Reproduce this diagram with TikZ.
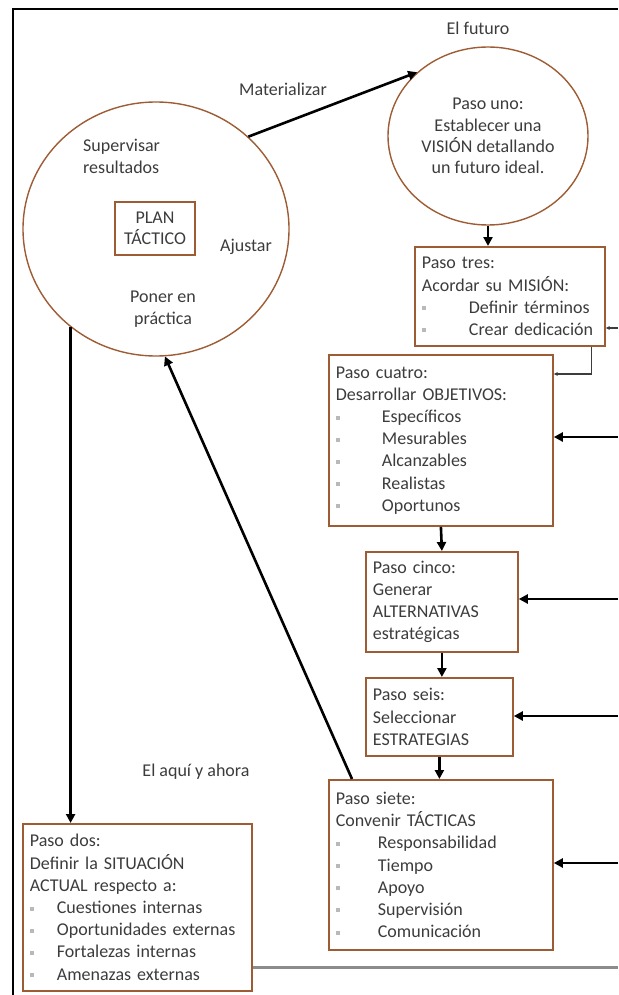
\documentclass[tikz,border=0pt]{standalone}
\usepackage{fontspec}
\setmainfont{Carlito}
\usetikzlibrary{arrows.meta,shapes.geometric,calc}
\definecolor{boxbrown}{RGB}{158,92,52}
\definecolor{txt}{RGB}{60,60,60}
\definecolor{bulgray}{RGB}{185,185,185}
\definecolor{railgray}{RGB}{140,140,140}
% bullet item: small grey square, then the text at a fixed indent
\newcommand\itm[2]{\makebox[#1][l]{\textcolor{bulgray}{\rule[3pt]{4pt}{4pt}}}#2}
\begin{document}
\begin{tikzpicture}[x=1pt,y=-1pt,
  every node/.style={font=\fontsize{18}{22.2}\selectfont, text=txt},
  stepbox/.style={draw=boxbrown, line width=1.8pt, rectangle, anchor=north west,
    align=left, inner xsep=7pt, inner ysep=0pt},
  oval/.style={draw=boxbrown, line width=1.4pt, ellipse, inner sep=0pt},
  bigarrow/.style={line width=2.6pt, -{Triangle[length=9pt,width=9pt]}},
  smallarrow/.style={draw=txt, line width=1.2pt, -{Stealth[length=4pt,width=4pt]}},
  lbl/.style={align=center, inner sep=0pt}]

\useasboundingbox (0,0) rectangle (618,995);

% page frame
\draw[line width=2pt] (13,995) -- (13,9) -- (618,9);

% right-edge entry points
\coordinate (inTres)   at (618,328);
\coordinate (inCuatro) at (618,437);
\coordinate (inCinco)  at (618,599);
\coordinate (inSeis)   at (618,716);
\coordinate (inSiete)  at (618,863);
\coordinate (railEnd)  at (618,967);

% headings
\node[lbl] (futuro) at (478,28) {El futuro};
\node[lbl] (materializar) at (283,89) {Materializar};
\node[lbl] (aqui) at (196,772) {El aquí y ahora};

% step one: the vision
\node[oval, minimum width=200pt, minimum height=178pt] (uno) at (488,136) {};
\node[lbl, font=\fontsize{18}{21.4}\selectfont] (unotext) at (uno.center)
  {Paso uno:\\Establecer una\\VISIÓN detallando\\un futuro ideal.};

% the tactical plan cycle
\node[oval, minimum width=266pt, minimum height=254pt] (ciclo) at (156,229) {};
\node[lbl, align=left, anchor=west] (supervisar) at (83,156) {Supervisar\\resultados};
\node[draw=boxbrown, line width=1.6pt, minimum width=80pt, minimum height=53pt,
      align=center, inner sep=0pt, font=\fontsize{18}{21}\selectfont] (plan) at (155,228.5)
  {PLAN\\TÁCTICO};
\node[lbl] (ajustar) at (246,247) {Ajustar};
\node[lbl] (poner) at (163,309) {Poner en\\práctica};

% step boxes
\node[stepbox, minimum width=190pt, minimum height=99pt, text width=176pt] (tres) at (414,246)
  {Paso tres:\\Acordar su MISIÓN:\\\itm{47pt}{Definir términos}\\\itm{47pt}{Crear dedicación}};

\node[stepbox, minimum width=224pt, minimum height=171pt, text width=210pt] (cuatro) at (328,354)
  {Paso cuatro:\\Desarrollar OBJETIVOS:\\\itm{46pt}{Específicos}\\\itm{46pt}{Mesurables}\\
   \itm{46pt}{Alcanzables}\\\itm{46pt}{Realistas}\\\itm{46pt}{Oportunos}};

\node[stepbox, minimum width=152pt, minimum height=100pt, text width=138pt] (cinco) at (365,551)
  {Paso cinco:\\Generar\\ALTERNATIVAS\\estratégicas};

\node[stepbox, minimum width=147pt, minimum height=78pt, text width=133pt] (seis) at (365,677)
  {Paso seis:\\Seleccionar\\ESTRATEGIAS};

\node[stepbox, minimum width=224pt, minimum height=170pt, text width=210pt] (siete) at (328,779)
  {Paso siete:\\Convenir TÁCTICAS\\\itm{42pt}{Responsabilidad}\\\itm{42pt}{Tiempo}\\
   \itm{42pt}{Apoyo}\\\itm{42pt}{Supervisión}\\\itm{42pt}{Comunicación}};

\node[stepbox, minimum width=229pt, minimum height=167pt, text width=215pt] (dos) at (22,823)
  {Paso dos:\\Definir la SITUACIÓN\\ACTUAL respecto a:\\\itm{27pt}{Cuestiones internas}\\
   \itm{27pt}{Oportunidades externas}\\\itm{27pt}{Fortalezas internas}\\\itm{27pt}{Amenazas externas}};

% main flow
\draw[bigarrow] (ciclo.45) -- (uno.138.4);
\draw[bigarrow] (uno.south) -- (uno.south |- tres.north);
\draw[smallarrow] ($(tres.south east)+(-14,0)$) |- ($(cuatro.north east)+(0,20)$);
\draw[bigarrow] (cuatro.south) -- (cinco.north);
\draw[bigarrow] (cinco.south) -- (cinco.south |- seis.north);
\draw[bigarrow] (seis.south) -- (seis.south |- siete.north);
\draw[bigarrow] ($(siete.north west)+(24,0)$) -- (ciclo.274);
\draw[bigarrow] (ciclo.229) -- (ciclo.229 |- dos.north);

% inputs from the right
\draw[smallarrow] (inTres) -- (inTres -| tres.east);
\draw[bigarrow] (inCuatro) -- (inCuatro -| cuatro.east);
\draw[bigarrow] (inCinco) -- (inCinco -| cinco.east);
\draw[bigarrow] (inSeis) -- (inSeis -| seis.east);
\draw[bigarrow] (inSiete) -- (inSiete -| siete.east);

% base line
\draw[railgray, line width=3pt] (railEnd -| dos.east) -- (railEnd);
\end{tikzpicture}
\end{document}
